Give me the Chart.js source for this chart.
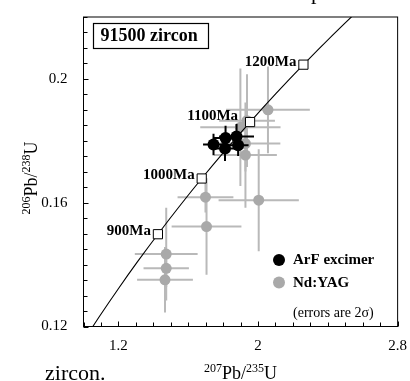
<!DOCTYPE html>
<html>
<head>
<meta charset="utf-8">
<script src="https://cdn.jsdelivr.net/npm/chart.js@4"></script>
<style>
  html, body { margin: 0; padding: 0; background: #fff; }
  canvas { display: block; }
</style>
</head>
<body>
<canvas id="c" width="410" height="381"></canvas>
<script>
// ===== DATA =====
// ArF excimer spots : 207Pb/235U, 206Pb/238U and 2σ errors
const arfX    = [1.745, 1.814, 1.877, 1.811, 1.886]
const arfY    = [0.1788, 0.1809, 0.1814, 0.1775, 0.1786]
const arfXErr = [0.06, 0.07, 0.10, 0.07, 0.06]
const arfYErr = [0.0035, 0.004, 0.004, 0.004, 0.0035]

// Nd:YAG spots
const yagX    = [2.057, 1.937, 1.899, 1.928, 1.928, 1.699, 1.705, 2.004, 1.474, 1.474, 1.467]
const yagY    = [0.1900, 0.1865, 0.1844, 0.1791, 0.1754, 0.1618, 0.1523, 0.1608, 0.1434, 0.1388, 0.1351]
const yagXErr = [0.24, 0.16, 0.23, 0.20, 0.18, 0.16, 0.20, 0.23, 0.18, 0.13, 0.16]
const yagYErr = [0.014, 0.015, 0.019, 0.009, 0.017, 0.005, 0.0156, 0.0165, 0.015, 0.006, 0.0106]

// Concordia curve, 700–1300 Ma
const concAge = [700, 750, 800, 850, 900, 950, 1000, 1050, 1100, 1150, 1200, 1250, 1300]
const concX   = [0.9925, 1.0930, 1.1987, 1.3097, 1.4264, 1.5488, 1.6774, 1.8126, 1.9545, 2.1036, 2.2602, 2.4248, 2.5976]
const concY   = [0.11470, 0.12338, 0.13213, 0.14094, 0.14982, 0.15878, 0.16782, 0.17691, 0.18606, 0.19530, 0.20460, 0.21397, 0.22343]

// Age marks on the concordia
const markX      = [1.4264, 1.6774, 1.9545, 2.2602]
const markY      = [0.14982, 0.16782, 0.18606, 0.20460]
const markLabels = ["900Ma", "1000Ma", "1100Ma", "1200Ma"]

// Axes
const xTickLabels = [1.2, 2, 2.8]
const yTickLabels = [0.12, 0.16, 0.2]

const seriesNames = ["ArF excimer", "Nd:YAG"]
const sampleName  = "91500 zircon"
const errorNote   = "(errors are 2σ)"

// ===== STYLE =====
const SERIF    = '"Liberation Serif", "Times New Roman", serif'
const GRAY_PT  = "#a9a9a9"
const GRAY_BAR = "#b9b9b9"

Chart.defaults.font.family = SERIF
Chart.defaults.color = "#000"

const pts = (xs, ys) => xs.map((x, i) => ({ x, y: ys[i] }))
const near = (list, v) => list.some(t => Math.abs(t - v) < 1e-7)

// text with superscript runs: [[text, isSup], ...]
function drawRuns(ctx, runs, x, y, size, supSize, rise) {
  const fonts = runs.map(r => `${r[1] ? supSize : size}px ${SERIF}`)
  let w = 0
  runs.forEach((r, i) => { ctx.font = fonts[i]; w += ctx.measureText(r[0]).width })
  let cx = x - w / 2
  ctx.textAlign = "left"
  ctx.textBaseline = "alphabetic"
  runs.forEach((r, i) => {
    ctx.font = fonts[i]
    ctx.fillText(r[0], cx, r[1] ? y - rise : y)
    cx += ctx.measureText(r[0]).width
  })
}

// ===== PLUGINS =====
const errorBars = {
  id: "errorBars",
  beforeDatasetDraw(chart, args) {
    const ds = chart.data.datasets[args.index]
    if (!ds.xErr) return
    const { ctx, chartArea: a } = chart
    const xs = chart.scales.x, ys = chart.scales.y
    ctx.save()
    ctx.beginPath()
    ctx.rect(a.left, a.top, a.right - a.left, a.bottom - a.top)
    ctx.clip()
    ctx.strokeStyle = ds.barColor
    ctx.lineWidth = 2
    ds.data.forEach((p, i) => {
      const px = xs.getPixelForValue(p.x), py = ys.getPixelForValue(p.y)
      ctx.beginPath()
      ctx.moveTo(xs.getPixelForValue(p.x - ds.xErr[i]), py)
      ctx.lineTo(xs.getPixelForValue(p.x + ds.xErr[i]), py)
      ctx.moveTo(px, ys.getPixelForValue(p.y - ds.yErr[i]))
      ctx.lineTo(px, ys.getPixelForValue(p.y + ds.yErr[i]))
      ctx.stroke()
    })
    ctx.restore()
  }
}

const decor = {
  id: "decor",
  afterDraw(chart) {
    const { ctx, chartArea: a } = chart
    const xs = chart.scales.x, ys = chart.scales.y
    ctx.save()
    ctx.fillStyle = "#000"
    ctx.strokeStyle = "#000"

    // frame
    ctx.lineWidth = 1
    ctx.strokeRect(a.left, a.top, a.right - a.left, a.bottom - a.top)

    // inward ticks
    ctx.beginPath()
    xs.ticks.forEach(t => {
      const px = Math.round(xs.getPixelForValue(t.value)) + 0.5
      const len = near(xTickLabels, t.value) ? 5 : 4
      ctx.moveTo(px, a.bottom); ctx.lineTo(px, a.bottom - len)
    })
    ys.ticks.forEach(t => {
      const py = Math.round(ys.getPixelForValue(t.value)) + 0.5
      const len = near(yTickLabels, t.value) ? 5 : 4
      ctx.moveTo(a.left, py); ctx.lineTo(a.left + len, py)
    })
    ctx.stroke()

    // age labels on the concordia
    ctx.font = `bold 15px ${SERIF}`
    ctx.textAlign = "right"
    ctx.textBaseline = "middle"
    markLabels.forEach((lab, i) => {
      const nudge = i === 2 ? 5 : 0
      ctx.fillText(lab, xs.getPixelForValue(markX[i]) - 7 - nudge, ys.getPixelForValue(markY[i]) - 3 - nudge / 2)
    })

    // sample box
    ctx.lineWidth = 1.2
    ctx.strokeRect(93.5, 23.5, 115, 25)
    ctx.font = `bold 18px ${SERIF}`
    ctx.textAlign = "left"
    ctx.fillText(sampleName, 100.5, 36.5)

    // legend
    ctx.beginPath(); ctx.arc(279, 260, 6, 0, Math.PI * 2); ctx.fill()
    ctx.fillStyle = GRAY_PT
    ctx.beginPath(); ctx.arc(279, 282.5, 6, 0, Math.PI * 2); ctx.fill()
    ctx.fillStyle = "#000"
    ctx.font = `bold 15px ${SERIF}`
    ctx.fillText(seriesNames[0], 293, 260.5)
    ctx.fillText(seriesNames[1], 293, 283)
    ctx.font = `14px ${SERIF}`
    ctx.fillText(errorNote, 293, 313)

    // axis titles
    drawRuns(ctx, [["207", true], ["Pb/", false], ["235", true], ["U", false]], (a.left + a.right) / 2, 379, 18, 12, 7)
    ctx.save()
    ctx.translate(37, 178)
    ctx.rotate(-Math.PI / 2)
    drawRuns(ctx, [["206", true], ["Pb/", false], ["238", true], ["U", false]], 0, 0, 18, 12, 7)
    ctx.restore()

    // bits of the surrounding page text
    ctx.font = `22px ${SERIF}`
    ctx.textAlign = "left"
    ctx.textBaseline = "alphabetic"
    ctx.fillText("zircon.", 45, 380)
    ctx.fillText("p", 311, -1)
    ctx.restore()
  }
}

// ===== CHART =====
new Chart(document.getElementById("c"), {
  type: "scatter",
  data: {
    datasets: [
      {
        label: seriesNames[0],
        data: pts(arfX, arfY),
        xErr: arfXErr, yErr: arfYErr, barColor: "#000",
        backgroundColor: "#000", borderWidth: 0, pointRadius: 6,
        order: 0
      },
      {
        label: "age marks",
        data: pts(markX, markY),
        pointStyle: "rect", pointRadius: 6.5,
        backgroundColor: "#fff", borderColor: "#000", borderWidth: 1,
        order: 1
      },
      {
        label: "concordia",
        data: pts(concX, concY),
        showLine: true, pointRadius: 0, borderColor: "#000", borderWidth: 1.1,
        fill: false, tension: 0.3, clip: 0,
        order: 2
      },
      {
        label: seriesNames[1],
        data: pts(yagX, yagY),
        xErr: yagXErr, yErr: yagYErr, barColor: GRAY_BAR,
        backgroundColor: GRAY_PT, borderWidth: 0, pointRadius: 5.5,
        order: 3
      }
    ]
  },
  options: {
    responsive: false,
    devicePixelRatio: 1,
    animation: false,
    layout: { padding: { left: 0, top: 12.5, right: 10.5, bottom: 0 } },
    plugins: { legend: { display: false }, tooltip: { enabled: false } },
    scales: {
      x: {
        type: "linear", min: 1.0, max: 2.8,
        grid: { display: false }, border: { display: false },
        afterFit: s => { s.height = 54.5 },
        ticks: {
          stepSize: 0.1, autoSkip: false, maxRotation: 0, padding: 3,
          font: { size: 15 }, color: "#000",
          callback: v => near(xTickLabels, v) ? String(Math.round(v * 10) / 10) : ""
        }
      },
      y: {
        type: "linear", min: 0.12, max: 0.22,
        grid: { display: false }, border: { display: false },
        afterFit: s => { s.width = 83.5 },
        ticks: {
          stepSize: 0.005, autoSkip: false, padding: 8,
          font: { size: 15 }, color: "#000",
          callback: v => near(yTickLabels, v) ? String(Math.round(v * 100) / 100) : ""
        }
      }
    }
  },
  plugins: [errorBars, decor]
})
</script>
</body>
</html>
